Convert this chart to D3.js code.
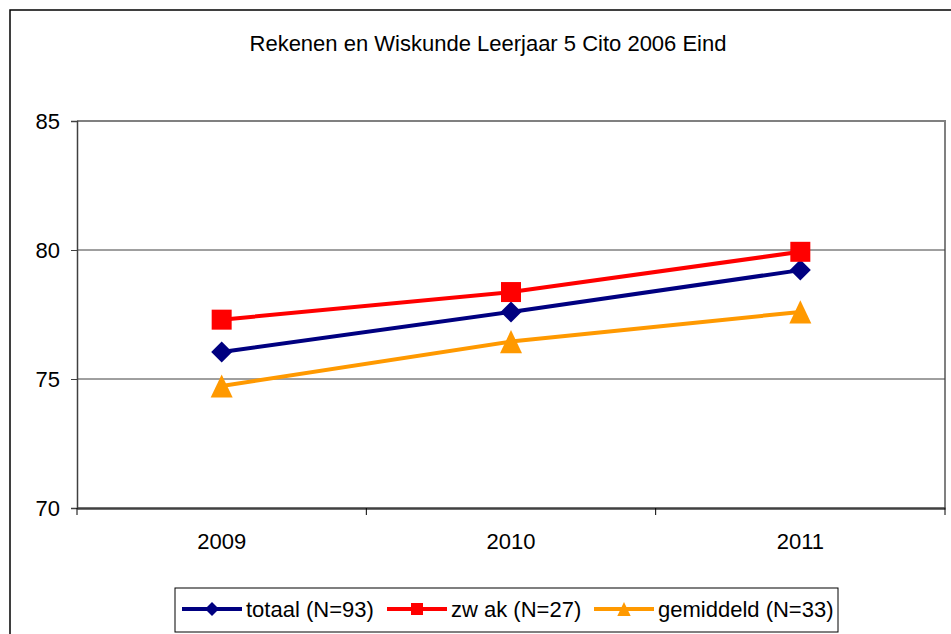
<!DOCTYPE html>
<meta charset="utf-8">
<head>
<script src="https://d3js.org/d3.v7.min.js"></script>
<style>
  body { margin: 0; background: #fff; }
  svg text { font-family: "Liberation Sans", Arial, sans-serif; fill: #000; }
</style>
</head>
<body>
<div class="viz"></div>
<script>
var width = 951, height = 634;

// chart data
var years = ["2009", "2010", "2011"];
var totaal = [76.05, 77.6, 79.22];
var zwak = [77.3, 78.37, 79.93];
var gemiddeld = [74.73, 76.45, 77.6];
var yTicks = [70, 75, 80, 85];
var seriesNames = ["totaal (N=93)", "zw ak (N=27)", "gemiddeld (N=33)"];

// marker shapes, centred on 0,0
function diamond(r) { return "M0," + (-r) + "L" + r + ",0L0," + r + "L" + (-r) + ",0Z"; }
function square(r) { return "M" + (-r) + "," + (-r) + "H" + r + "V" + r + "H" + (-r) + "Z"; }
function triangle(r) { return "M0," + (-r * 1.05) + "L" + r + "," + (r * 1.05) + "H" + (-r) + "Z"; }

var series = [
  { name: seriesNames[0], values: totaal, color: "#000080", marker: diamond, big: 10.5, small: 7 },
  { name: seriesNames[1], values: zwak, color: "#ff0000", marker: square, big: 10, small: 6 },
  { name: seriesNames[2], values: gemiddeld, color: "#ff9900", marker: triangle, big: 11, small: 6.7 }
];

var plot = { left: 77, top: 121, right: 945, bottom: 508 };
var fontSize = "22px";

var svg = d3.select("div.viz").append("svg")
  .attr("width", width)
  .attr("height", height);

// outer chart border (runs off the picture right and bottom)
svg.append("rect")
  .attr("x", 10).attr("y", 10)
  .attr("width", 960).attr("height", 640)
  .style("fill", "none").style("stroke", "#000").style("stroke-width", 1.5);

svg.append("text")
  .attr("x", 488).attr("y", 51)
  .attr("text-anchor", "middle")
  .style("font-size", fontSize)
  .text("Rekenen en Wiskunde Leerjaar 5 Cito 2006 Eind");

var x = d3.scaleBand().domain(years).range([plot.left, plot.right]);
var y = d3.scaleLinear().domain([70, 85]).range([plot.bottom, plot.top]);

// plot frame top + right
svg.append("path")
  .attr("d", "M" + plot.left + "," + plot.top + "H" + plot.right + "V" + plot.bottom)
  .style("fill", "none").style("stroke", "#808080").style("stroke-width", 2);

// gridlines
svg.selectAll("line.grid")
  .data(yTicks.filter(function(d) { return d > 70 && d < 85; }))
  .enter().append("line")
  .attr("class", "grid")
  .attr("x1", plot.left).attr("x2", plot.right)
  .attr("y1", function(d) { return y(d); })
  .attr("y2", function(d) { return y(d); })
  .style("stroke", "#404040").style("stroke-width", 1);

// y axis
var yAxis = svg.append("g")
  .attr("transform", "translate(" + plot.left + ",0)")
  .call(d3.axisLeft(y).tickValues(yTicks).tickSize(6).tickPadding(11));
yAxis.select(".domain").style("stroke", "#404040").style("stroke-width", 1.5);
yAxis.selectAll(".tick line").style("stroke", "#404040");
yAxis.selectAll("text").style("font-size", fontSize).attr("fill", "#000");

// x axis
var xAxis = svg.append("g")
  .attr("transform", "translate(0," + plot.bottom + ")")
  .call(d3.axisBottom(x).tickSize(0).tickPadding(25));
xAxis.select(".domain").style("stroke", "#404040").style("stroke-width", 2.5);
xAxis.selectAll("text").style("font-size", fontSize).attr("fill", "#000");
var bounds = years.map(function(d) { return x(d); }).concat([plot.right]);
xAxis.selectAll("line.bound")
  .data(bounds)
  .enter().append("line")
  .attr("class", "bound")
  .attr("x1", function(d) { return d; }).attr("x2", function(d) { return d; })
  .attr("y1", 0).attr("y2", 7)
  .style("stroke", "#000").style("stroke-width", 1);

var line = d3.line()
  .x(function(d, i) { return x(years[i]) + x.bandwidth() / 2; })
  .y(function(d) { return y(d); });

series.forEach(function(s) {
  svg.append("path")
    .datum(s.values)
    .attr("d", line)
    .style("fill", "none").style("stroke", s.color).style("stroke-width", 4);
  svg.selectAll(null)
    .data(s.values)
    .enter().append("path")
    .attr("transform", function(d, i) {
      return "translate(" + (x(years[i]) + x.bandwidth() / 2) + "," + y(d) + ")";
    })
    .attr("d", s.marker(s.big))
    .style("fill", s.color);
});

// legend
var legend = svg.append("g");
legend.append("rect")
  .attr("x", 175).attr("y", 588).attr("width", 663).attr("height", 44)
  .style("fill", "#fff").style("stroke", "#000").style("stroke-width", 1);

var legendX = [182, 387, 594];
series.forEach(function(s, i) {
  var g = legend.append("g").attr("transform", "translate(" + legendX[i] + ",609)");
  g.append("line")
    .attr("x1", 0).attr("x2", 60)
    .style("stroke", s.color).style("stroke-width", 4);
  g.append("path")
    .attr("transform", "translate(30,0)")
    .attr("d", s.marker(s.small))
    .style("fill", s.color);
  g.append("text")
    .attr("x", 64).attr("dy", "0.35em")
    .style("font-size", fontSize)
    .text(s.name);
});
</script>
</body>
